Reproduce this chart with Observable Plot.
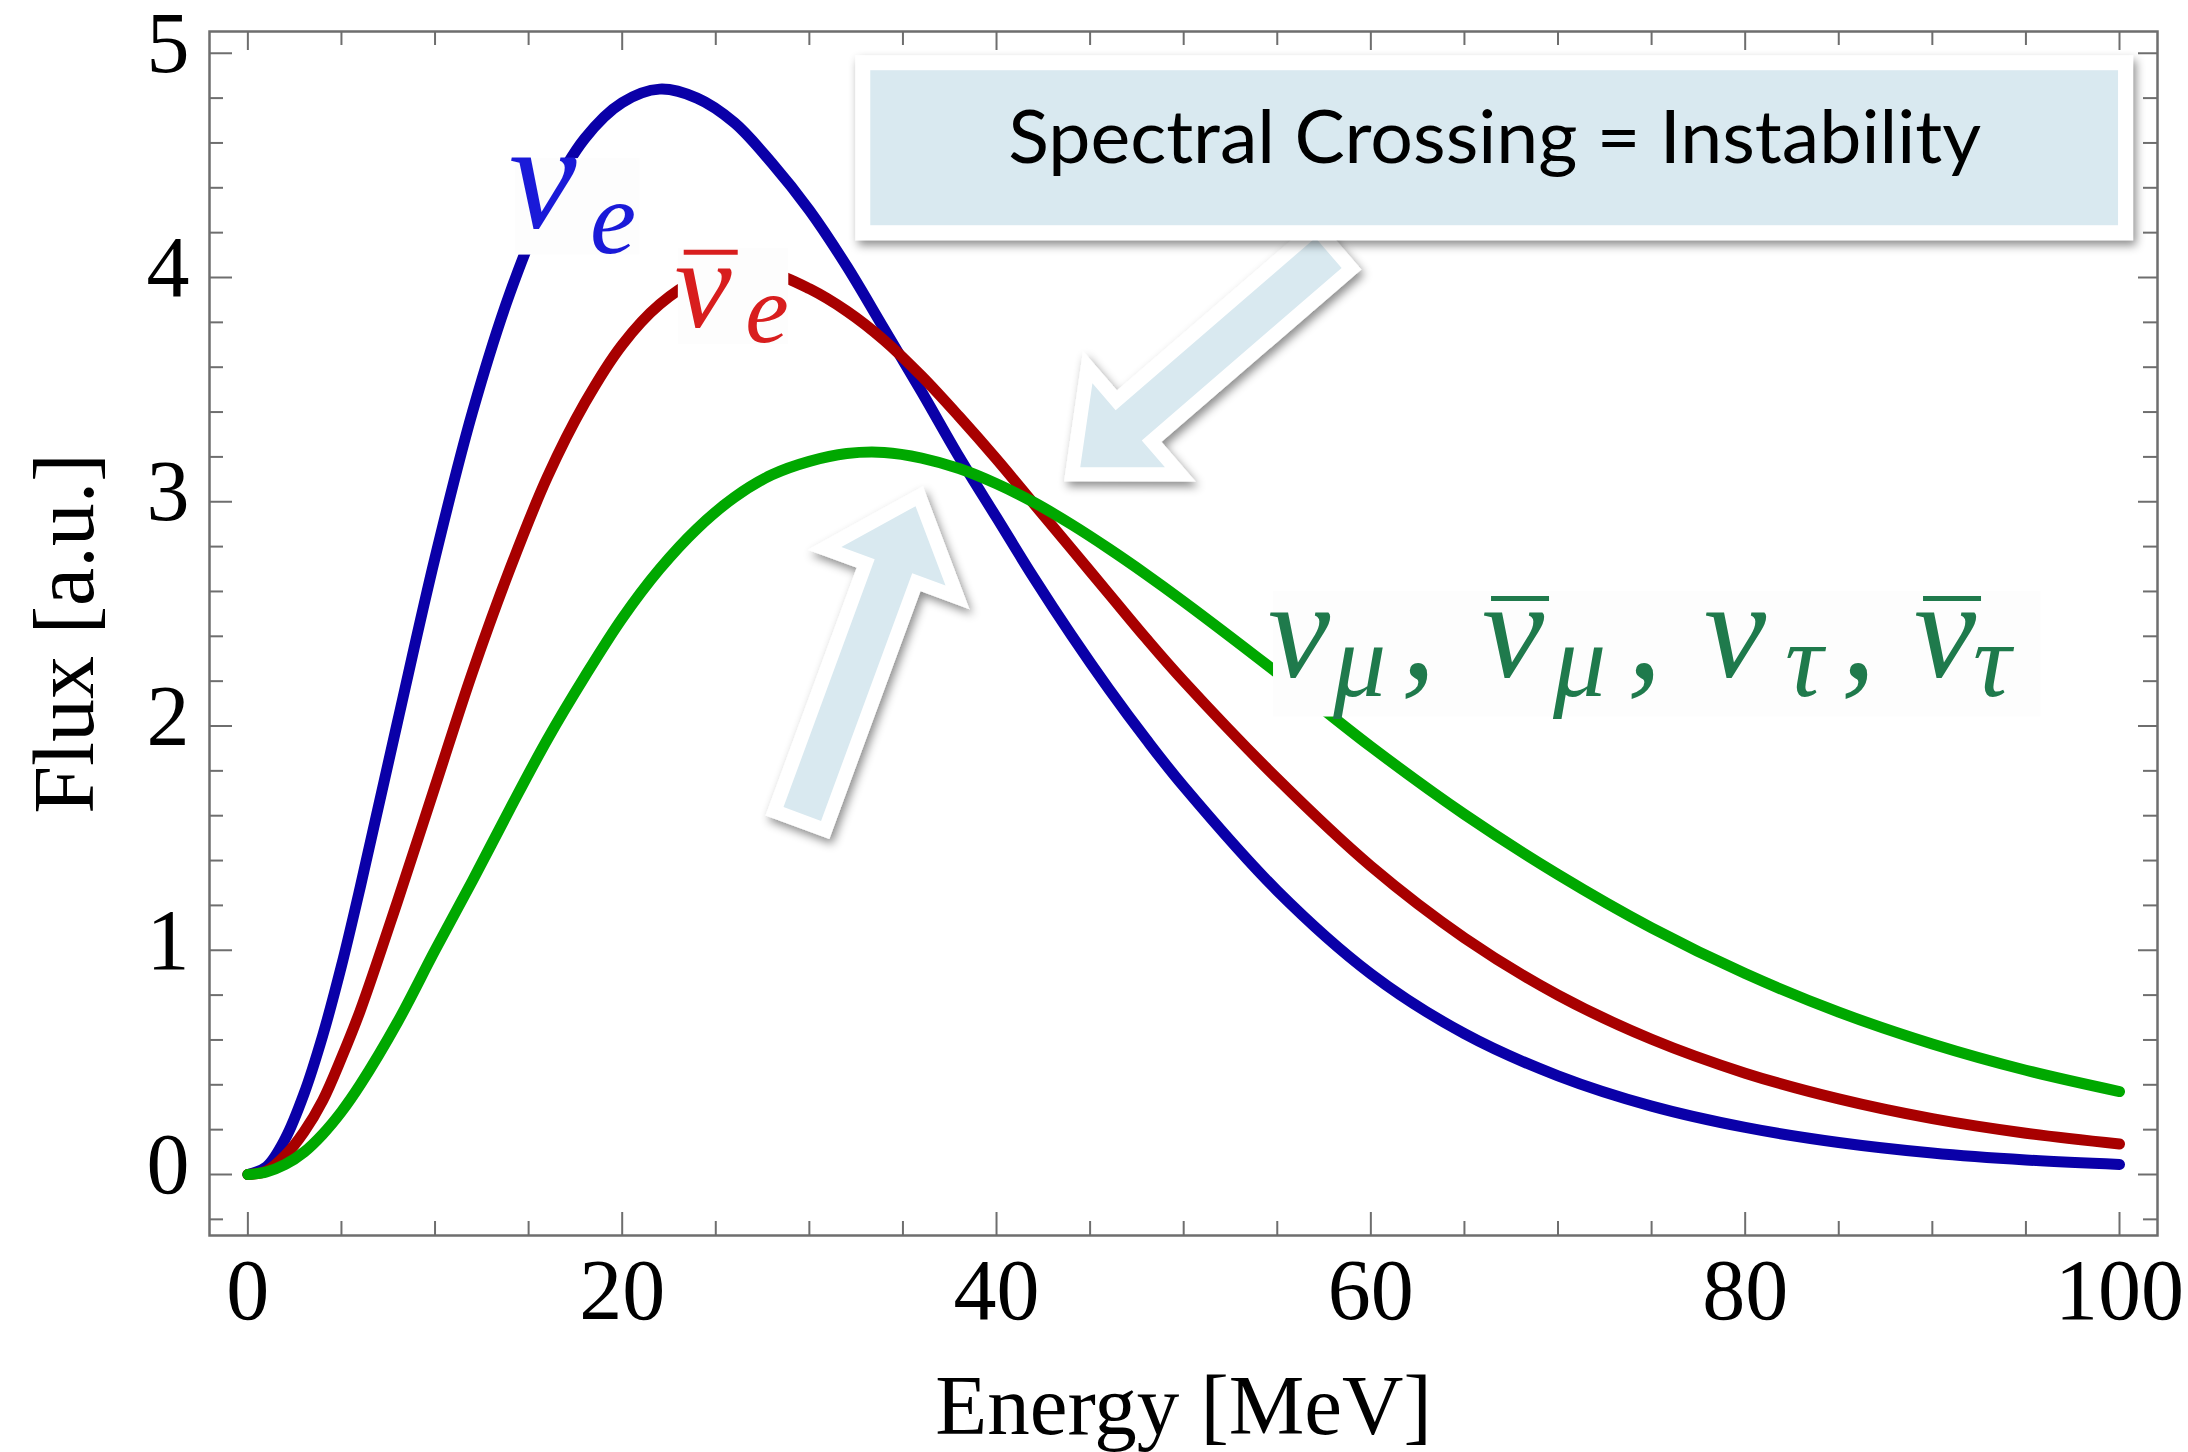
<!DOCTYPE html>
<html>
<head>
<meta charset="utf-8">
<script src="https://cdn.jsdelivr.net/npm/d3@7"></script>
<script src="https://cdn.jsdelivr.net/npm/@observablehq/plot@0.6"></script>
<style>
html, body { margin: 0; padding: 0; background: #fff; }
#chart svg { display: block; }
</style>
</head>
<body>
<div id="chart"></div>
<script>
// ---------------- data ----------------
const energy = [0, 1, 2, 3, 4, 5, 6, 8, 10, 12, 14, 16, 18, 20, 22, 24, 26, 28, 30, 32, 34, 36, 38, 40, 42, 44, 46, 48, 50, 55, 60, 65, 70, 75, 80, 85, 90, 95, 100];
const fluxNuE = [0, 0.035, 0.16, 0.36, 0.62, 0.93, 1.28, 2.02, 2.75, 3.40, 3.93, 4.34, 4.62, 4.78, 4.84, 4.80, 4.69, 4.51, 4.30, 4.05, 3.77, 3.49, 3.20, 2.93, 2.66, 2.405, 2.165, 1.94, 1.73, 1.265, 0.895, 0.628, 0.44, 0.305, 0.21, 0.143, 0.096, 0.065, 0.045];
const fluxNuEBar = [0, 0.016, 0.085, 0.19, 0.33, 0.52, 0.73, 1.22, 1.73, 2.24, 2.70, 3.11, 3.44, 3.70, 3.88, 3.99, 4.03, 4.02, 3.95, 3.85, 3.72, 3.56, 3.38, 3.19, 2.99, 2.79, 2.59, 2.39, 2.20, 1.765, 1.375, 1.055, 0.80, 0.603, 0.452, 0.337, 0.249, 0.184, 0.136];
const fluxNuX = [0, 0.012, 0.045, 0.10, 0.18, 0.28, 0.40, 0.68, 1.00, 1.31, 1.63, 1.94, 2.22, 2.48, 2.70, 2.88, 3.02, 3.12, 3.18, 3.215, 3.22, 3.195, 3.148, 3.08, 2.997, 2.899, 2.791, 2.676, 2.555, 2.237, 1.908, 1.606, 1.338, 1.10, 0.896, 0.724, 0.582, 0.465, 0.37];
const seriesNames = ["nu_e", "nu_e_bar", "nu_x"];
const seriesColors = ["#0a00a8", "#a80000", "#00a800"];

const xMajorTicks = [0, 20, 40, 60, 80, 100];
const xMinorTicks = [5, 10, 15, 25, 30, 35, 45, 50, 55, 65, 70, 75, 85, 90, 95];
const yMajorTicks = [0, 1, 2, 3, 4, 5];
const yMinorTicks = [-0.2, 0.2, 0.4, 0.6, 0.8, 1.2, 1.4, 1.6, 1.8, 2.2, 2.4, 2.6, 2.8, 3.2, 3.4, 3.6, 3.8, 4.2, 4.4, 4.6, 4.8];

const xTitle = "Energy [MeV]";
const yTitle = "Flux [a.u.]";
const calloutText = "Spectral Crossing = Instability";

// ---------------- layout / style ----------------
const W = 2188, H = 1452;
const mL = 209, mR = 31, mT = 31, mB = 217;
const fw = W - mL - mR, fh = H - mT - mB;
const axisColor = "#6e6e6e";
const serif = "'Liberation Serif', 'Times New Roman', serif";

const rows = [];
[fluxNuE, fluxNuEBar, fluxNuX].forEach((vals, i) =>
  vals.forEach((v, j) => rows.push({E: energy[j], F: v, s: seriesNames[i]})));

const tickStyle = {stroke: axisColor, strokeWidth: 2};

const plot = Plot.plot({
  width: W, height: H,
  marginLeft: mL, marginRight: mR, marginTop: mT, marginBottom: mB,
  style: {background: "#fff", fontFamily: serif, color: "#000", overflow: "visible"},
  x: {domain: [-2.05, 102.03]},
  y: {domain: [-0.272, 5.097]},
  color: {domain: seriesNames, range: seriesColors},
  marks: [
    Plot.tickX(xMajorTicks, {x: d => d, insetTop: fh - 23, ...tickStyle}),
    Plot.tickX(xMinorTicks, {x: d => d, insetTop: fh - 14, ...tickStyle}),
    Plot.tickX(xMajorTicks, {x: d => d, insetBottom: fh - 19, ...tickStyle}),
    Plot.tickX(xMinorTicks, {x: d => d, insetBottom: fh - 14, ...tickStyle}),
    Plot.tickY(yMajorTicks, {y: d => d, insetRight: fw - 23, ...tickStyle}),
    Plot.tickY(yMinorTicks, {y: d => d, insetRight: fw - 14, ...tickStyle}),
    Plot.tickY(yMajorTicks, {y: d => d, insetLeft: fw - 19, ...tickStyle}),
    Plot.tickY(yMinorTicks, {y: d => d, insetLeft: fw - 14, ...tickStyle}),
    Plot.frame({stroke: axisColor, strokeWidth: 2.5}),
    Plot.line(rows, {x: "E", y: "F", z: "s", stroke: "s", strokeWidth: 11, curve: "catmull-rom"}),
    Plot.axisX(xMajorTicks, {tickSize: 0, tickPadding: 22, fontSize: 86, label: null, tickFormat: d => String(d)}),
    Plot.axisY(yMajorTicks, {tickSize: 0, tickPadding: 20, fontSize: 86, dy: -9, label: null, tickFormat: d => String(d)}),
    Plot.text([xTitle], {frameAnchor: "bottom", dy: 198, lineAnchor: "bottom", textAnchor: "middle", fontSize: 85}),
    Plot.text([yTitle], {frameAnchor: "left", dx: -117, rotate: -90, lineAnchor: "bottom", textAnchor: "middle", fontSize: 86})
  ]
});
document.getElementById("chart").appendChild(plot);

// ---------------- annotations (anchored in data coordinates) ----------------
const sx = plot.scale("x"), sy = plot.scale("y");
const px = v => sx.apply(v), py = v => sy.apply(v);
const svg = d3.select(plot);

const defs = svg.append("defs");
const f = defs.append("filter").attr("id", "softShadow")
  .attr("x", "-20%").attr("y", "-20%").attr("width", "140%").attr("height", "140%");
f.append("feDropShadow").attr("dx", 3).attr("dy", 5).attr("stdDeviation", 5)
  .attr("flood-color", "#000").attr("flood-opacity", 0.45);

const ann = svg.append("g").attr("class", "annotations").attr("text-anchor", "start");

// label backgrounds that cut the curves
const labelBoxes = [
  {x1: 14.3, x2: 20.95, y1: 4.53, y2: 4.10},
  {x1: 23.0, x2: 28.9, y1: 4.13, y2: 3.70},
  {x1: 54.8, x2: 95.8, y1: 2.60, y2: 2.04}
];
ann.selectAll("rect.lbl").data(labelBoxes).join("rect").attr("class", "lbl")
  .attr("x", d => px(d.x1)).attr("y", d => py(d.y1))
  .attr("width", d => px(d.x2) - px(d.x1)).attr("height", d => py(d.y2) - py(d.y1))
  .attr("fill", "#fdfdfd");

function glyph(g, txt, x, y, size, color) {
  return g.append("text").attr("x", x).attr("y", y).attr("text-anchor", "start")
    .attr("font-family", serif).attr("font-style", "italic")
    .attr("font-size", size).attr("fill", color).text(txt);
}
function bar(g, x1, x2, y, color) {
  g.append("line").attr("x1", x1).attr("x2", x2).attr("y1", y).attr("y2", y)
    .attr("stroke", color).attr("stroke-width", 5);
}

// nu_e label
{
  const c = "#1a1ad8";
  const x0 = px(14.3), b = py(4.218);
  glyph(ann, "ν", x0 - 6, b, 152, c);
  glyph(ann, "e", px(18.3), py(4.106), 104, c);
}
// anti nu_e label
{
  const c = "#d81e1e";
  const x0 = px(23.1), b = py(3.776);
  glyph(ann, "ν", x0 - 5, b, 128, c);
  bar(ann, x0 + 4, x0 + 58, b - 75, c);
  glyph(ann, "e", px(26.6), py(3.709), 98, c);
}
// heavy-lepton flavour label
{
  const c = "#1f7a4c";
  const x0 = px(54.8), b = py(2.218), bs = b + 19;
  const big = 140, sm = 106;
  const parts = [
    {t: "ν", dx: 0, big: true, bar: false},
    {t: "μ", dx: 60, big: false},
    {t: ",", dx: 133, big: true},
    {t: "ν", dx: 214, big: true, bar: true},
    {t: "μ", dx: 280, big: false},
    {t: ",", dx: 359, big: true},
    {t: "ν", dx: 436, big: true, bar: false},
    {t: "τ", dx: 512, big: false},
    {t: ",", dx: 573, big: true},
    {t: "ν", dx: 646, big: true, bar: true},
    {t: "τ", dx: 700, big: false}
  ];
  parts.forEach(p => {
    glyph(ann, p.t, x0 + p.dx - (p.big ? 5 : 0), p.big ? b : bs, p.big ? big : sm, c);
    if (p.bar) bar(ann, x0 + p.dx + 4, x0 + p.dx + 62, b - 78, c);
  });
}

// block arrows
const arrowFill = "#d9e9f0";
const arrows = [
  {E: 44.5, F: 3.152, angle: -40.8},
  {E: 35.7, F: 2.978, angle: 110.2}
];
const aLen = 328, aShaft = 40, aHead = 111, aHeadLen = 64;
const arrowD = `M0,0 L${aHeadLen},${-aHead / 2} L${aHeadLen},${-aShaft / 2} L${aLen},${-aShaft / 2} L${aLen},${aShaft / 2} L${aHeadLen},${aShaft / 2} L${aHeadLen},${aHead / 2} Z`;
arrows.forEach(a => {
  const outer = ann.append("g").attr("filter", "url(#softShadow)");
  const g = outer.append("g").attr("transform", `translate(${px(a.E)},${py(a.F)}) rotate(${a.angle})`);
  g.append("path").attr("d", arrowD).attr("fill", "#fff").attr("stroke", "#fff")
    .attr("stroke-width", 28).attr("stroke-linejoin", "miter").attr("stroke-miterlimit", 10);
  const g2 = ann.append("g").attr("transform", `translate(${px(a.E)},${py(a.F)}) rotate(${a.angle})`);
  g2.append("path").attr("d", arrowD).attr("fill", arrowFill);
});

// callout box
const callout = {x1: 32.48, x2: 100.75, y1: 4.989, y2: 4.164, border: 15, textE: 40.65, textF: 4.507};
{
  const X1 = px(callout.x1), X2 = px(callout.x2), Y1 = py(callout.y1), Y2 = py(callout.y2), bw = callout.border;
  ann.append("rect").attr("x", X1).attr("y", Y1).attr("width", X2 - X1).attr("height", Y2 - Y1)
    .attr("fill", "#fff").attr("filter", "url(#softShadow)");
  ann.append("rect").attr("x", X1 + bw).attr("y", Y1 + bw).attr("width", X2 - X1 - 2 * bw).attr("height", Y2 - Y1 - 2 * bw)
    .attr("fill", arrowFill);
  ann.append("text").attr("x", px(callout.textE)).attr("y", py(callout.textF)).attr("text-anchor", "start")
    .attr("font-family", "Lato, 'Open Sans', sans-serif").attr("font-size", 74)
    .attr("textLength", 973).attr("lengthAdjust", "spacingAndGlyphs")
    .attr("fill", "#000").text(calloutText);
}
</script>
</body>
</html>
